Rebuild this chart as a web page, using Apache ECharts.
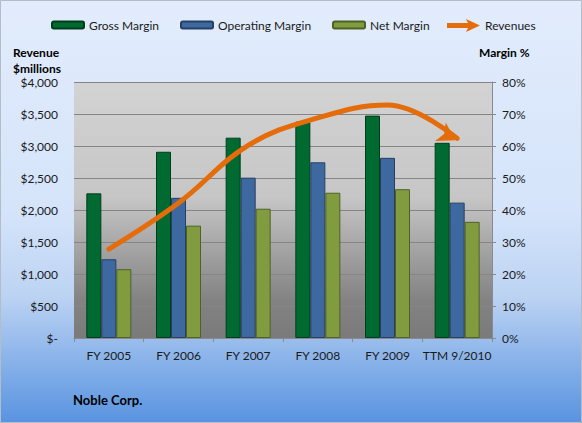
<!DOCTYPE html>
<html>
<head>
<meta charset="utf-8">
<script src="https://cdn.jsdelivr.net/npm/echarts@6/dist/echarts.min.js"></script>
<style>
  html, body { margin: 0; padding: 0; }
  #chart { width: 582px; height: 423px; }
</style>
</head>
<body>
<div id="chart"></div>
<script>
// categories and values
var categories = ['FY 2005', 'FY 2006', 'FY 2007', 'FY 2008', 'FY 2009', 'TTM 9/2010']
var grossMargin = [45.2, 58.2, 62.6, 67.6, 69.5, 61.0]
var operatingMargin = [24.6, 43.8, 50.1, 54.9, 56.3, 42.3]
var netMargin = [21.5, 35.1, 40.4, 45.4, 46.5, 36.3]
var revenues = [1390, 2110, 3010, 3440, 3640, 3120]

var font = 'Lato, "Open Sans", sans-serif'
var arrowIcon = 'path://M0,4 L21,4 L19,0 L33,6.5 L19,13 L21,9 L0,9 Z'

function money(v) {
  if (v === 0) return '$-'
  return '$' + v.toLocaleString('en-US')
}

var chart = echarts.init(document.getElementById('chart'), null, { renderer: 'svg' })

// last point of the revenue line gets the arrow head
var revenueData = revenues.map(function (v, i) {
  if (i === revenues.length - 1) {
    return { value: v, symbol: 'arrow', symbolSize: [16, 17], symbolRotate: -120, symbolOffset: [-2, 2] }
  }
  return v
})

function legendAt(left, name, extra) {
  var item = { name: name }
  if (extra) item.icon = extra
  return {
    left: left,
    top: 14,
    itemWidth: extra ? 33 : 32,
    itemHeight: extra ? 13 : 7,
    itemGap: 4,
    selectedMode: false,
    textStyle: { fontFamily: font, fontSize: 12, color: '#1a1a1a' },
    data: [item]
  }
}

var option = {
  backgroundColor: {
    type: 'linear', x: 0, y: 0, x2: 0, y2: 1,
    colorStops: [
      { offset: 0, color: '#e2ecfc' },
      { offset: 0.5, color: '#d5e4fa' },
      { offset: 0.7, color: '#bcd3f3' },
      { offset: 1, color: '#5893e0' }
    ]
  },
  animation: false,
  legend: [
    legendAt(46, 'Gross Margin'),
    legendAt(175, 'Operating Margin'),
    legendAt(327, 'Net Margin'),
    legendAt(442, 'Revenues', arrowIcon)
  ],
  grid: {
    left: 74,
    right: 90,
    top: 82,
    bottom: 85,
    show: true,
    borderWidth: 0,
    backgroundColor: {
      type: 'linear', x: 0, y: 0, x2: 0, y2: 1,
      colorStops: [
        { offset: 0, color: '#d3d3d3' },
        { offset: 0.45, color: '#c6c6c6' },
        { offset: 0.85, color: '#838383' },
        { offset: 1, color: '#7a7a7a' }
      ]
    }
  },
  xAxis: {
    type: 'category',
    data: categories,
    axisLine: { lineStyle: { color: '#8a8a8a' } },
    axisTick: { show: true, length: 4, lineStyle: { color: '#8a8a8a' } },
    axisLabel: { interval: 0, fontFamily: font, fontSize: 12, color: '#1a1a1a', margin: 11 }
  },
  yAxis: [
    {
      type: 'value',
      min: 0,
      max: 4000,
      interval: 500,
      axisLine: { show: false },
      axisTick: { show: false },
      splitLine: { lineStyle: { color: '#858585' } },
      axisLabel: { fontFamily: font, fontSize: 12, color: '#1a1a1a', margin: 16, formatter: money }
    },
    {
      type: 'value',
      min: 0,
      max: 80,
      interval: 10,
      axisLine: { show: true, lineStyle: { color: '#8a8a8a' } },
      axisTick: { show: true, length: 4, lineStyle: { color: '#8a8a8a' } },
      splitLine: { show: false },
      axisLabel: { fontFamily: font, fontSize: 12, color: '#1a1a1a', margin: 10, formatter: '{value}%' }
    }
  ],
  series: [
    {
      name: 'Gross Margin',
      type: 'bar',
      yAxisIndex: 1,
      barWidth: 15,
      barGap: '0%',
      itemStyle: { color: '#006a30', borderColor: '#003d1b', borderWidth: 1 },
      data: grossMargin
    },
    {
      name: 'Operating Margin',
      type: 'bar',
      yAxisIndex: 1,
      barWidth: 15,
      barGap: '0%',
      itemStyle: { color: '#3e69a0', borderColor: '#263f62', borderWidth: 1 },
      data: operatingMargin
    },
    {
      name: 'Net Margin',
      type: 'bar',
      yAxisIndex: 1,
      barWidth: 15,
      barGap: '0%',
      itemStyle: { color: '#809c3f', borderColor: '#4f6127', borderWidth: 1 },
      data: netMargin
    },
    {
      name: 'Revenues',
      type: 'line',
      yAxisIndex: 0,
      smooth: 0.4,
      symbol: 'none',
      showSymbol: true,
      lineStyle: { color: '#e46c0a', width: 5, cap: 'round' },
      itemStyle: { color: '#e46c0a' },
      silent: true,
      z: 5,
      data: revenueData
    }
  ],
  graphic: [
    {
      type: 'rect',
      shape: { x: 0.5, y: 0.5, width: 581, height: 422 },
      style: { fill: 'none', stroke: '#b4bcc8', lineWidth: 1 },
      silent: true
    },
    {
      type: 'text', left: 13, top: 44,
      style: { text: 'Revenue\n$millions', fontFamily: font, fontSize: 12, fontWeight: 'bold', fill: '#000', lineHeight: 16 }
    },
    {
      type: 'text', left: 479, top: 46,
      style: { text: 'Margin %', fontFamily: font, fontSize: 12, fontWeight: 'bold', fill: '#000' }
    },
    {
      type: 'text', left: 73, top: 393,
      style: { text: 'Noble Corp.', fontFamily: font, fontSize: 13, fontWeight: 'bold', fill: '#000' }
    }
  ]
}

chart.setOption(option)
window.addEventListener('resize', function () {
  chart.resize()
})
</script>
</body>
</html>
